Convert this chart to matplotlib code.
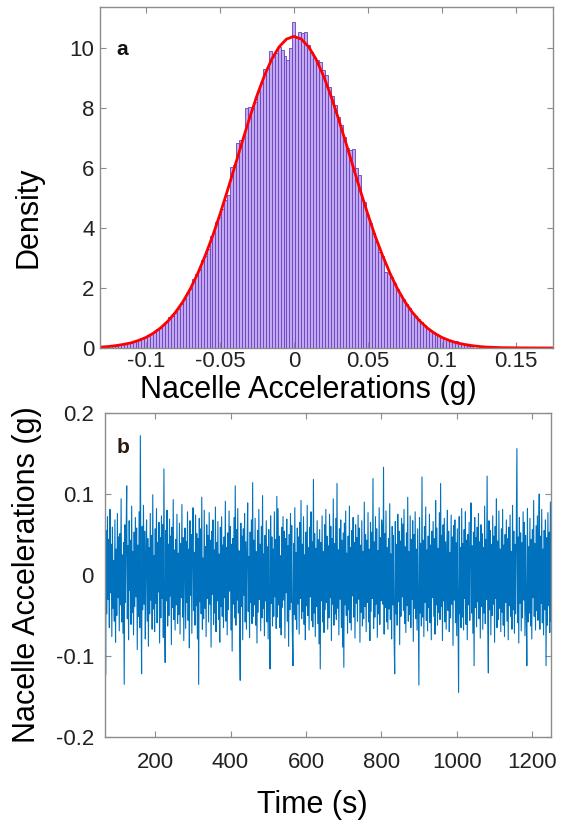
import matplotlib
matplotlib.use("Agg")
import matplotlib.pyplot as plt
import numpy as np

plt.rcParams['font.family'] = ['Liberation Sans', 'DejaVu Sans']

# histogram (panel a) ------------------------------
bin_lo, bin_w = -0.125, 0.002
density = [
    0.06, 0.07, 0.08, 0.10, 0.12, 0.13, 0.15, 0.18, 0.21, 0.24, 0.27, 0.32,
    0.35, 0.44, 0.47, 0.52, 0.62, 0.68, 0.78, 0.86, 1.02, 1.08, 1.18, 1.30,
    1.45, 1.62, 1.82, 1.98, 2.30, 2.45, 2.60, 2.92, 3.05, 3.30, 3.75, 3.85,
    4.20, 4.38, 4.65, 4.95, 5.10, 6.05, 6.10, 6.85, 6.95, 7.05, 8.00, 8.05,
    8.00, 8.20, 8.55, 8.85, 9.30, 9.35, 9.90, 9.70, 9.85, 10.05, 9.93, 9.75,
    9.60, 10.00, 10.88, 10.32, 10.54, 10.49, 10.54, 10.10, 9.88, 9.66, 9.60, 9.54,
    9.27, 9.10, 8.71, 8.40, 8.10, 7.70, 7.43, 7.05, 6.67, 6.60, 6.62, 5.99,
    5.77, 5.04, 4.88, 4.45, 4.16, 3.85, 3.55, 3.21, 3.05, 2.54, 2.49, 2.35,
    2.18, 1.95, 1.78, 1.62, 1.48, 1.32, 1.16, 1.06, 0.95, 0.88, 0.75, 0.66,
    0.58, 0.52, 0.46, 0.40, 0.35, 0.30, 0.26, 0.24, 0.21, 0.24, 0.15, 0.12,
    0.10, 0.08, 0.06,
]

# fitted normal curve, read every 0.005 g from -0.135 to 0.175
fit_x0, fit_dx = -0.135, 0.005
fit_y = [
    0.02, 0.03, 0.05, 0.08, 0.12, 0.17, 0.25, 0.35, 0.49, 0.67, 0.90, 1.19,
    1.54, 1.97, 2.48, 3.07, 3.72, 4.45, 5.23, 6.04, 6.86, 7.66, 8.41, 9.07,
    9.63, 10.04, 10.30, 10.39, 10.30, 10.04, 9.63, 9.07, 8.41, 7.66, 6.86, 6.04,
    5.23, 4.45, 3.72, 3.07, 2.48, 1.97, 1.54, 1.19, 0.90, 0.67, 0.49, 0.35,
    0.25, 0.17, 0.12, 0.08, 0.05, 0.03, 0.02, 0.01, 0.008, 0.005, 0.003, 0.002,
    0.001, 0.0006, 0.0003,
]

# time history (panel b), values in 0.001 g ----------
t_start, t_end = 67, 1250
accel_mg = [
    106, -123, 55, -48, 72, -30, 44, -65, 81, -22, 38, -76, 59, -41, 18, -57, 68, -83, 32, -50, 76, -28, 47, -69,
    51, -37, 94, -58, 25, -72, 40, -135, 62, -34, 49, 110, -54, 36, -80, 67, -19, 43, -61, 85, -46, 29, -74, 53,
    -39, 71, -27, 58, -92, 37, -51, 78, -65, 172, -24, -122, 60, -43, 86, -36, 54, -79, 22, 68, -57, 45, -88, 34,
    -48, 76, -31, 49, -67, 99, -42, 24, -70, 57, -35, 82, -59, 40, -21, 65, -84, 46, -53, 73, -29, 62, -77, 131,
    -46, -108, 55, -32, 80, -63, 38, -50, 69, -26, 48, -86, 59, -40, 93, -55, 31, -68, 44, -37, 75, -60, 27, -49,
    64, -73, 39, -28, 87, -52, 46, -81, 23, 58, -66, 41, -34, 78, -56, 32, -90, 67, -25, 50, -72, 36, 83, -44,
    28, -62, 74, -38, 51, -79, 45, -135, 70, -33, 57, -48, 96, -67, 21, -54, 80, -41, 35, -76, 62, -29, 49, -58,
    77, -36, 43, -89, 54, -24, 68, -61, 31, -47, 84, -70, 40, -32, 66, -55, 26, -83, 59, -39, 72, -51, 37, -65,
    47, -28, 91, -57, 34, -74, 52, -43, 79, -20, 60, -68, 38, -94, 45, -36, 71, -53, 110, -62, 56, -31, 82, -47,
    30, -71, -130, 64, -39, 48, -80, 57, -25, 76, -58, 41, -67, 34, 89, -45, 23, -77, 53, -34, 68, -60, 114, -51,
    43, -37, 70, -62, 29, -84, 55, -46, 81, -30, 38, -69, 60, -53, 98, -41, 26, -75, 49, -32, 67, -58, 35, -79,
    56, -40, -116, 73, -35, 47, -63, 32, -51, 78, -27, 44, -66, 97, -52, 82, -37, 48, -65, 24, -74, 59, -40, 72,
    -31, 54, -78, 45, -22, 69, -57, 36, -88, 50, -43, 76, -34, 61, -70, -112, 39, -49, 83, -55, 28, -67, 58, -36,
    47, -73, 65, -29, 92, -54, 38, -45, 72, -61, 25, -80, 53, -38, 86, -50, 34, -68, 59, -27, 78, -56, 41, -64,
    118, -47, 51, -76, 33, -39, 67, -60, 44, -85, 56, -116, 40, -32, 73, -58, 29, -71, 62, -43, 81, -34, 48, -67,
    36, -53, 75, -28, 60, -81, 45, -36, 94, -62, 39, -48, 70, -55, 113, -41, 31, -74, 57, -30, 68, -65, 43, -89,
    52, -114, 64, -37, 79, -50, 27, -72, 48, -43, 85, -59, 34, -68, 55, -26, 71, -52, 40, -78, 62, -35, 46, -57,
    74, -30, 58, -83, 37, -46, 67, -63, 29, -54, 90, -39, 50, -70, 43, -34, 77, -58, 32, -81, 65, -45, 53, -29,
    119, -66, 41, -52, 72, -36, 57, -77, 30, -48, 83, -61, 46, -32, 68, 54, -36, 133, -73, 51, -40, 79, -58, 34,
    -67, 45, -42, 88, -55, 26, -79, 60, -37, 49, -74, -122, 66, -48, 38, -62, 75, -33, 54, -86, 42, -51, 70, -27,
    63, -44, 81, -60, 35, -71, 52, -38, 96, -57, 29, -49, 73, -65, 44, -30, 67, -82, 50, -41, 78, -54, 32, -68,
    57, -35, -136, 71, -47, 39, -63, 121, -52, 43, -76, 60, -34, 84, -56, 31, -69, 48, -40, 75, -59, 37, -80, 54,
    -28, 66, -51, 45, -73, 92, -37, 58, -62, 33, -46, 77, -55, 113, -39, 49, -81, 62, -32, 70, -58, 41, -67, 36,
    80, -44, 54, -70, 28, -53, 74, -36, 47, -87, 61, -31, 68, -59, 40, -75, 57, -43, -145, 72, -48, 34, -65, 82,
    -52, 39, -68, 56, -29, 78, -61, 43, -80, 50, -37, 65, -56, 31, 89, -47, 36, -72, 53, -112, 71, -40, 46, -64,
    59, -33, 76, -54, 41, -78, 62, -39, 51, -67, 34, -47, 85, -60, 44, -30, 122, -58, -121, 67, -43, 55, -74, 38,
    -50, 73, -36, 48, -83, 60, -29, 94, -65, 42, -55, 79, -41, 32, -70, 57, -46, 81, -62, 37, -76, 50, -34, 68,
    -57, 45, -80, 59, -38, 74, -51, 29, -67, 86, -43, 54, -72, 38, -48, 63, 156, -59, 47, -84, 71, -35, 52, -69,
    40, -53, 78, -31, 65, -75, 49, -40, -112, 82, -58, 35, -47, 70, -63, 44, -79, 56, -28, 92, -51, 39, -68, 61,
    -44, 73, -56, 37, 100, -67, 48, -35, 81, -59, 32, -74, 55, -43, 68, -112, 46, -62, 77, -38, 53, -71, 90, -57,
]

hist_xticks = [-0.1, -0.05, 0, 0.05, 0.1, 0.15]
hist_xlabels = ['-0.1', '-0.05', '0', '0.05', '0.1', '0.15']
hist_yticks = [0, 2, 4, 6, 8, 10]
ts_xticks = [200, 400, 600, 800, 1000, 1200]
ts_yticks = [-0.2, -0.1, 0, 0.1, 0.2]
ts_ylabels = ['-0.2', '-0.1', '0', '0.1', '0.2']


def style_box(ax):
    for s in ax.spines.values():
        s.set_color('#8c8c8c')
        s.set_linewidth(1.0)
    ax.tick_params(direction='in', top=True, right=True, length=4,
                   color='#8c8c8c', labelcolor='#222222')


fig = plt.figure(figsize=(5.7, 8.23), dpi=100)

# panel a ---------------------------------------------
ax1 = fig.add_axes([0.1754, 0.5772, 0.7947, 0.4143])
centers = bin_lo + bin_w / 2 + bin_w * np.arange(len(density))
ax1.bar(centers, density, width=bin_w, color='#c2aaf0', edgecolor='#6a3fc0',
        linewidth=0.6)
fit_x = fit_x0 + fit_dx * np.arange(len(fit_y))
ax1.plot(fit_x, fit_y, color='#ff0000', linewidth=2)
ax1.set_xlim(-0.131, 0.175)
ax1.set_ylim(0, 11.37)
ax1.set_xticks(hist_xticks)
ax1.set_xticklabels(hist_xlabels)
ax1.set_yticks(hist_yticks)
style_box(ax1)
ax1.tick_params(labelsize=16)
ax1.tick_params(axis='x', pad=2)
ax1.tick_params(axis='y', pad=4)
ax1.set_xlabel('Nacelle Accelerations (g)', fontsize=22)
ax1.xaxis.set_label_coords(0.459, -0.078)
ax1.set_ylabel('Density', fontsize=22)
ax1.yaxis.set_label_coords(-0.124, 0.384)
ax1.text(0.05, 0.874, 'a', transform=ax1.transAxes, fontsize=15,
         fontweight='bold', va='center', ha='center', color='#111111')

# panel b ---------------------------------------------
ax2 = fig.add_axes([0.1842, 0.1045, 0.7825, 0.3937])
accel = np.array(accel_mg) / 1000.0
t = np.linspace(t_start, t_end, len(accel))
ax2.plot(t, accel, color='#0072bd', linewidth=0.8)
ax2.set_xlim(t_start, t_end)
ax2.set_ylim(-0.2, 0.2)
ax2.set_xticks(ts_xticks)
ax2.set_yticks(ts_yticks)
ax2.set_yticklabels(ts_ylabels)
style_box(ax2)
ax2.tick_params(labelsize=16)
ax2.tick_params(axis='x', pad=11)
ax2.tick_params(axis='y', pad=8)
ax2.set_xlabel('Time (s)', fontsize=22)
ax2.xaxis.set_label_coords(0.464, -0.164)
ax2.set_ylabel('Nacelle Accelerations (g)', fontsize=22)
ax2.yaxis.set_label_coords(-0.141, 0.5)
ax2.text(0.04, 0.895, 'b', transform=ax2.transAxes, fontsize=15,
         fontweight='bold', va='center', ha='center', color='#2a1a10')

plt.savefig('out.png', dpi=100)
